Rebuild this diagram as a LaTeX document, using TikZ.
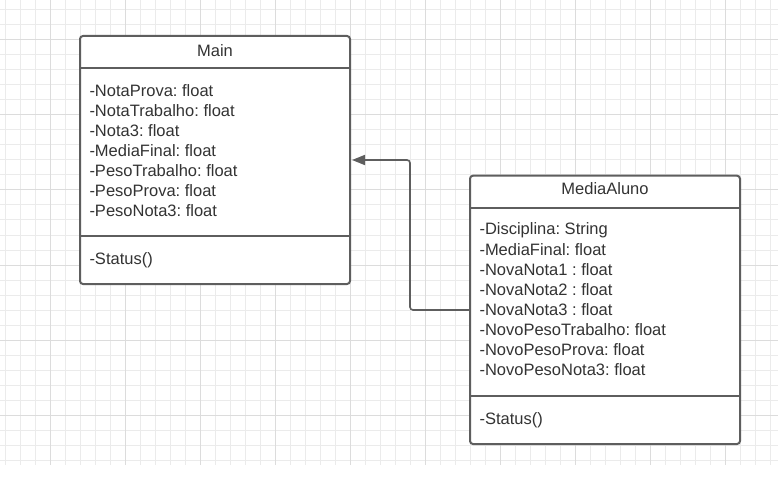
\documentclass[tikz,border=0pt]{standalone}
\usepackage{fontspec}
\setmainfont{Liberation Sans}
\usetikzlibrary{arrows.meta}
\definecolor{gridminor}{HTML}{EBEBEB}
\definecolor{gridmajor}{HTML}{DCDCDC}
\definecolor{linec}{HTML}{5E5E5E}
\definecolor{textc}{HTML}{333333}
\frenchspacing
\begin{document}
\begin{tikzpicture}[x=1pt,y=-1pt,
  umlbox/.style={draw=linec, line width=2pt, fill=white, rounded corners=3pt, inner sep=0pt},
  sepline/.style={draw=linec, line width=2pt},
  txt/.style={anchor=base west, inner sep=0pt, text=textc, font=\fontsize{16.5}{20}\selectfont\frenchspacing},
  ttl/.style={anchor=base, inner sep=0pt, text=textc, font=\fontsize{16.5}{20}\selectfont},
  conn/.style={draw=linec, line width=1.6pt, rounded corners=3pt, -{Triangle[length=13pt,width=10pt]}},
  gminor/.style={draw=gridminor, line width=1pt},
  gmajor/.style={draw=gridmajor, line width=1pt}]

\useasboundingbox (0,0) rectangle (778,478);
\fill[white] (0,0) rectangle (778,478);
% grid
\foreach \x in {5,20,...,770} \draw[gminor] (\x,0) -- (\x,465);
\foreach \y in {10,25,...,460} \draw[gminor] (0,\y) -- (778,\y);
\foreach \x in {50,125,...,725} \draw[gmajor] (\x,0) -- (\x,465);
\foreach \y in {40,115,...,415} \draw[gmajor] (0,\y) -- (778,\y);

% Main class
\node[umlbox, minimum width=270pt, minimum height=248pt] (main) at (215,160) {};
\draw[sepline] (main.west |- 0,67.7) -- (main.east |- 0,67.7);
\draw[sepline] (main.west |- 0,236) -- (main.east |- 0,236);
\node[ttl] (mtitle) at (215,56.4) {Main};
\node[txt] (ma1) at (89.3,96.4) {-NotaProva: float};
\node[txt] (ma2) at (89.3,116.4) {-NotaTrabalho: float};
\node[txt] (ma3) at (89.3,136.4) {-Nota3: float};
\node[txt] (ma4) at (89.3,156.4) {-MediaFinal: float};
\node[txt] (ma5) at (89.3,176.4) {-PesoTrabalho: float};
\node[txt] (ma6) at (89.3,196.4) {-PesoProva: float};
\node[txt] (ma7) at (89.3,216.4) {-PesoNota3: float};
\node[txt] (mop) at (89.3,264.7) {-Status()};

% MediaAluno class
\node[umlbox, minimum width=270pt, minimum height=268.3pt] (media) at (605,309.85) {};
\draw[sepline] (media.west |- 0,207.7) -- (media.east |- 0,207.7);
\draw[sepline] (media.west |- 0,396) -- (media.east |- 0,396);
\node[ttl] (atitle) at (605,195) {MediaAluno};
\node[txt] (aa1) at (479.3,235) {-Disciplina: String};
\node[txt] (aa2) at (479.3,255) {-MediaFinal: float};
\node[txt] (aa3) at (479.3,275) {-NovaNota1 : float};
\node[txt] (aa4) at (479.3,295) {-NovaNota2 : float};
\node[txt] (aa5) at (479.3,315) {-NovaNota3 : float};
\node[txt] (aa6) at (479.3,335) {-NovoPesoTrabalho: float};
\node[txt] (aa7) at (479.3,355) {-NovoPesoProva: float};
\node[txt] (aa8) at (479.3,375) {-NovoPesoNota3: float};
\node[txt] (aop) at (479.3,424) {-Status()};

% connector
\coordinate (cstart) at (media.west |- 0,310);
\coordinate (cend) at ([xshift=1pt]main.east |- 0,160);
\draw[conn] (cstart) -| (410,160) -- (cend);
\end{tikzpicture}
\end{document}
